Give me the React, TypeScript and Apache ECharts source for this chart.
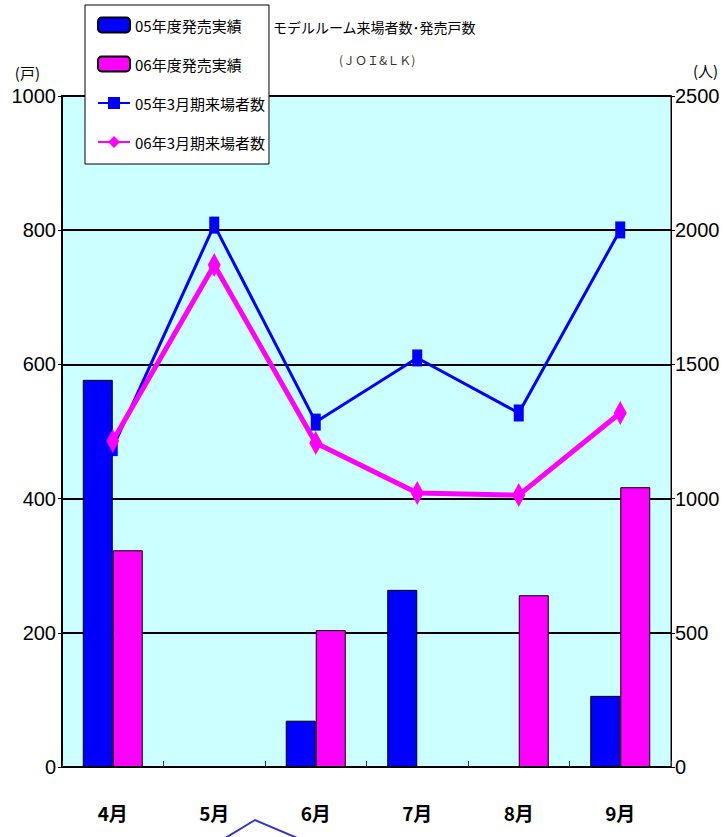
import React, { useEffect, useRef } from "react";
import * as echarts from "echarts";

const categories = ["4月", "5月", "6月", "7月", "8月", "9月"];
const sales05 = [577, 0, 69, 264, 0, 106];
const sales06 = [323, 0, 204, 0, 256, 417];
const visitors05 = [1190, 2019, 1285, 1524, 1319, 2001];
const visitors06 = [1215, 1870, 1207, 1021, 1013, 1319];
const seriesNames = ["05年度発売実績", "06年度発売実績", "05年3月期来場者数", "06年3月期来場者数"];

const NUM = "'Liberation Sans', Arial, sans-serif";
const CJK = "'Noto Sans CJK JP', sans-serif";

export default function App() {
  const ref = useRef<HTMLDivElement>(null);
  useEffect(() => {
    if (!ref.current) return;
    const chart = echarts.init(ref.current, null, { renderer: "svg" });
    chart.setOption({
      animation: false,
      backgroundColor: "#ffffff",
      title: [
        {
          text: "モデルルーム来場者数･発売戸数",
          left: 268,
          top: 15,
          textStyle: { fontFamily: CJK, fontSize: 14, fontWeight: "normal", color: "#000" },
        },
        {
          text: "(ＪＯＩ&ＬＫ)",
          left: 334,
          top: 48,
          textStyle: { fontFamily: CJK, fontSize: 12, fontWeight: "normal", color: "#333" },
        },
      ],
      legend: {
        orient: "vertical",
        left: 85,
        top: 5,
        data: seriesNames,
        backgroundColor: "#ffffff",
        borderColor: "#000",
        borderWidth: 1,
        padding: [10, 4, 12, 12],
        itemWidth: 32,
        itemHeight: 15,
        itemGap: 19,
        textStyle: { fontFamily: CJK, fontSize: 15, color: "#000", lineHeight: 20 },
      },
      grid: {
        left: 62,
        right: 54,
        top: 96,
        bottom: 70,
        outerBoundsMode: "none",
        containLabel: false,
        show: true,
        backgroundColor: "#ccffff",
        borderColor: "#808080",
        borderWidth: 2,
      },
      xAxis: {
        type: "category",
        data: categories,
        axisLine: { lineStyle: { color: "#000", width: 2 } },
        axisTick: { show: true, inside: true, length: 6, lineStyle: { color: "#333" } },
        axisLabel: { margin: 36, fontFamily: CJK, fontSize: 19, fontWeight: "bold", color: "#000" },
      },
      yAxis: [
        {
          type: "value",
          min: 0,
          max: 1000,
          interval: 200,
          name: "(戸)",
          nameLocation: "end",
          nameGap: 16,
          nameTextStyle: { fontFamily: CJK, fontSize: 15, color: "#000", align: "right", padding: [0, 22, 0, 0] },
          axisLine: { show: true, lineStyle: { color: "#000", width: 2 } },
          axisTick: { show: true, length: 4, lineStyle: { color: "#000" } },
          axisLabel: { margin: 6, fontFamily: NUM, fontSize: 20, color: "#000", formatter: (v: number) => String(v) },
          splitLine: { show: true, lineStyle: { color: "#000", width: 2 } },
        },
        {
          type: "value",
          min: 0,
          max: 2500,
          interval: 500,
          name: "(人)",
          nameLocation: "end",
          nameGap: 18,
          nameTextStyle: { fontFamily: CJK, fontSize: 15, color: "#000", align: "left", padding: [0, 0, 0, 22] },
          axisLine: { show: true, lineStyle: { color: "#000", width: 1 } },
          axisTick: { show: true, length: 4, lineStyle: { color: "#000" } },
          axisLabel: { margin: 4, fontFamily: NUM, fontSize: 20, color: "#000", formatter: (v: number) => String(v) },
          splitLine: { show: false },
        },
      ],
      series: [
        {
          name: seriesNames[0],
          type: "bar",
          yAxisIndex: 0,
          data: sales05,
          barWidth: 30,
          barGap: "0%",
          itemStyle: { color: "#0000ff", borderColor: "#000", borderWidth: 1 },
        },
        {
          name: seriesNames[1],
          type: "bar",
          yAxisIndex: 0,
          data: sales06,
          barWidth: 30,
          barGap: "0%",
          itemStyle: { color: "#ff00ff", borderColor: "#000", borderWidth: 1 },
        },
        {
          name: seriesNames[2],
          type: "line",
          yAxisIndex: 1,
          data: visitors05,
          symbol: "rect",
          symbolSize: [10, 17],
          lineStyle: { color: "#0000ff", width: 3 },
          itemStyle: { color: "#0000ff" },
          z: 3,
        },
        {
          name: seriesNames[3],
          type: "line",
          yAxisIndex: 1,
          data: visitors06,
          symbol: "diamond",
          symbolSize: [13, 24],
          lineStyle: { color: "#ff00ff", width: 5 },
          itemStyle: { color: "#ff00ff" },
          z: 4,
        },
      ],
      graphic: [
        {
          type: "polyline",
          shape: { points: [[222, 840], [255, 820], [302, 840]] },
          style: { stroke: "#3333cc", lineWidth: 2, fill: "none" },
          silent: true,
        },
      ],
    });
    return () => chart.dispose();
  }, []);
  return <div ref={ref} style={{ width: 725, height: 837, position: "absolute", left: 0, top: 0 }} />;
}
